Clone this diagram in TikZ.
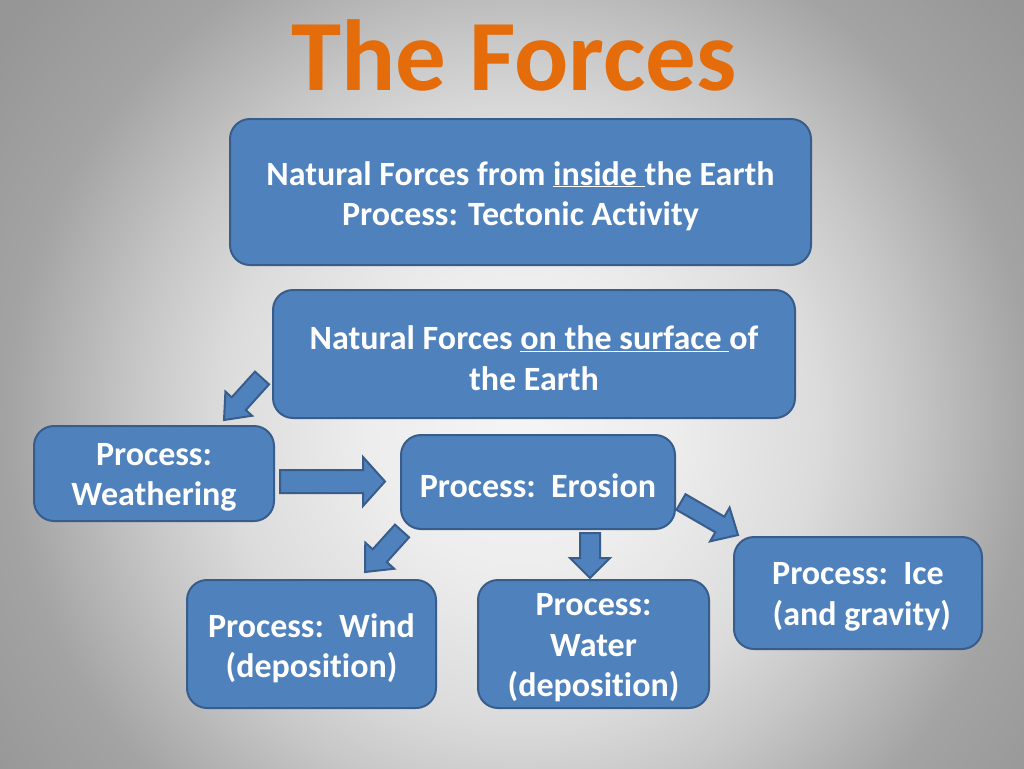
\documentclass[tikz,border=0pt]{standalone}
\usepackage{fontspec}
\setmainfont{Carlito}[Ligatures=CommonOff]
\usetikzlibrary{calc}
\definecolor{boxfill}{HTML}{4F81BD}
\definecolor{boxline}{HTML}{385D8A}
\definecolor{titleorange}{HTML}{E46C0A}
\pgfdeclareradialshading{slidebg}{\pgfpoint{0bp}{0bp}}{%
 color(0bp)=(white!96!black);
 color(5.8bp)=(white!93!black);
 color(11.5bp)=(white!86!black);
 color(14.8bp)=(white!78!black);
 color(19.7bp)=(white!64!black);
 color(24.6bp)=(white!59!black);
 color(50bp)=(white!59!black)}
\newcommand{\blockarrow}[5]{%
 \coordinate (ba-base) at ($(#2)!#5!(#1)$);
 \draw[arrowbox] ($(#1)!#3!90:(#2)$) -- ($(ba-base)!#3!90:(#2)$) -- ($(ba-base)!#4!90:(#2)$) -- (#2)
   -- ($(ba-base)!#4!-90:(#2)$) -- ($(ba-base)!#3!-90:(#2)$) -- ($(#1)!#3!-90:(#2)$) -- cycle;
}
\newcommand{\slidebox}[6]{%
 \node[boxshape, minimum width=#4, minimum height=#5] (#1) at (#2,#3) {};
 \node[boxtext] (#1-t) at (#2,#3+4) {#6};
}
\begin{document}
\begin{tikzpicture}[x=1pt,y=-1pt,
  boxshape/.style={draw=boxline, line width=2pt, fill=boxfill, rounded corners=20pt,
    inner sep=0pt, anchor=center},
  boxtext/.style={text=white, font=\bfseries\fontsize{34}{40.5}\selectfont, align=center,
    inner sep=0pt, anchor=center},
  arrowbox/.style={draw=boxline, line width=2pt, fill=boxfill, line join=miter},
  title/.style={text=titleorange, font=\bfseries\fontsize{101}{112}\selectfont, inner sep=0pt}]
\useasboundingbox (0,0) rectangle (1024,768);
\begin{scope}
\clip (0,0) rectangle (1024,768);
\shade[shading=slidebg] (-130,-230) rectangle (1170,1070);
\end{scope}

\node[title, anchor=base] (title) at (514,90) {The Forces};

\slidebox{inside}{520.5}{192}{581pt}{146pt}
  {Natural Forces from \underline{inside\ }the Earth\\Process: Tectonic Activity}
\slidebox{surface}{534}{354}{522pt}{128pt}
  {Natural Forces \underline{on the surface\ }of\\the Earth}
\slidebox{weather}{154}{473.5}{240pt}{95pt}
  {Process:\\Weathering}
\slidebox{erosion}{538}{482}{274pt}{94pt}
  {Process:\ \ Erosion}
\slidebox{wind}{311.5}{644}{249pt}{128pt}
  {Process:\ \ Wind\\(deposition)}
\slidebox{water}{593.5}{644}{231pt}{128pt}
  {Process:\\Water\\(deposition)}
\slidebox{ice}{858}{593}{248pt}{112pt}
  {Process:\ \ Ice\\\ (and gravity)}

\coordinate (a1t) at (262,378);   \coordinate (a1h) at (224,420);
\coordinate (a2t) at (280,481.5); \coordinate (a2h) at (385,481.5);
\coordinate (a3t) at (402,531);   \coordinate (a3h) at (365,572);
\coordinate (a4t) at (590,533);   \coordinate (a4h) at (590,578);
\coordinate (a5t) at (681,502);   \coordinate (a5h) at (738,535);

\blockarrow{a1t}{a1h}{9.5pt}{18pt}{22pt}
\blockarrow{a2t}{a2h}{11.5pt}{24.5pt}{22pt}
\blockarrow{a3t}{a3h}{9.5pt}{19.5pt}{22pt}
\blockarrow{a4t}{a4h}{10pt}{20pt}{20pt}
\blockarrow{a5t}{a5h}{9pt}{19.5pt}{21pt}
\end{tikzpicture}
\end{document}
